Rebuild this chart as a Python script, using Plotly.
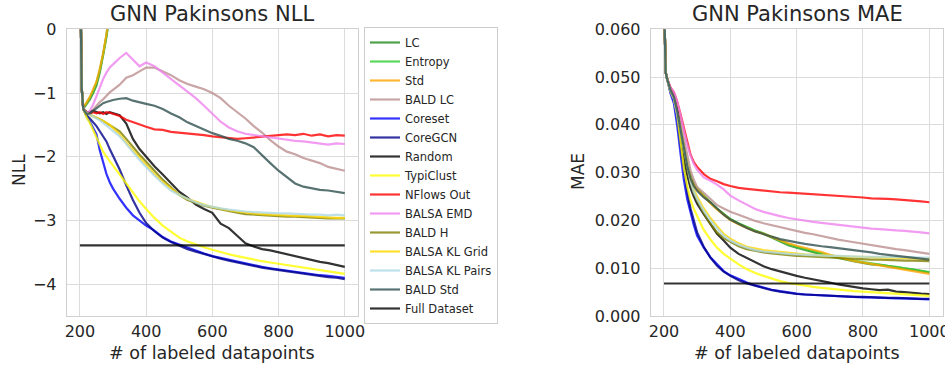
import plotly.graph_objects as go

X = [200, 205, 210, 220, 230, 240, 250, 260, 270, 280, 290, 300, 320, 340, 360, 380, 400,
     425, 450, 475, 500, 525, 550, 575, 600, 625, 650, 675, 700, 725, 750, 775, 800, 825,
     850, 875, 900, 925, 950, 975, 1000]
X_SHORT = [200, 205, 210, 220, 230, 240, 250, 260, 270, 280, 290, 300]
X_FULL = [200, 1000]

# ---------------- NLL ----------------
nll_lc = [1.5, -0.9, -1.25, -1.18, -1.1, -1.0, -0.88, -0.68, -0.42, -0.12, 0.25, 0.6]
nll_entropy = [1.5, -0.9, -1.24, -1.16, -1.07, -0.97, -0.84, -0.64, -0.4, -0.1, 0.28, 0.65]
nll_std = [1.5, -0.9, -1.22, -1.15, -1.06, -0.95, -0.82, -0.62, -0.38, -0.08, 0.3, 0.7]
nll_bald_lc = [1.5, -0.9, -1.25, -1.32, -1.3, -1.26, -1.2, -1.14, -1.1, -1.04, -0.99, -0.95,
               -0.87, -0.76, -0.72, -0.66, -0.6, -0.6, -0.66, -0.72, -0.8, -0.86, -0.9, -0.94,
               -1.0, -1.08, -1.2, -1.3, -1.4, -1.52, -1.62, -1.74, -1.84, -1.92, -1.96, -2.02,
               -2.06, -2.1, -2.16, -2.19, -2.22]
nll_coreset = [1.5, -0.9, -1.25, -1.37, -1.45, -1.56, -1.65, -1.9, -2.1, -2.27, -2.4, -2.5,
               -2.66, -2.8, -2.92, -3.0, -3.08, -3.16, -3.26, -3.33, -3.38, -3.43, -3.48, -3.52,
               -3.56, -3.59, -3.62, -3.65, -3.68, -3.71, -3.73, -3.75, -3.77, -3.79, -3.81,
               -3.83, -3.84, -3.86, -3.87, -3.89, -3.9]
nll_coregcn = [1.5, -0.9, -1.25, -1.35, -1.4, -1.46, -1.52, -1.6, -1.68, -1.76, -1.88, -1.98,
               -2.2, -2.45, -2.68, -2.88, -3.04, -3.17, -3.27, -3.34, -3.4, -3.45, -3.49, -3.53,
               -3.57, -3.6, -3.63, -3.66, -3.69, -3.72, -3.74, -3.76, -3.78, -3.8, -3.82, -3.84,
               -3.86, -3.87, -3.89, -3.9, -3.92]
nll_random = [1.5, -0.9, -1.25, -1.3, -1.3, -1.28, -1.3, -1.32, -1.3, -1.33, -1.3, -1.32,
              -1.35, -1.48, -1.72, -1.88, -2.0, -2.15, -2.28, -2.42, -2.55, -2.64, -2.75, -2.82,
              -2.88, -3.05, -3.12, -3.24, -3.36, -3.41, -3.45, -3.47, -3.5, -3.54, -3.57, -3.59,
              -3.62, -3.65, -3.67, -3.7, -3.73]
nll_typiclust = [1.5, -0.9, -1.25, -1.38, -1.47, -1.58, -1.7, -1.82, -1.92, -2.0, -2.07, -2.14,
                 -2.28, -2.42, -2.57, -2.7, -2.82, -2.96, -3.08, -3.18, -3.27, -3.33, -3.38,
                 -3.42, -3.46, -3.5, -3.53, -3.56, -3.59, -3.62, -3.64, -3.66, -3.68, -3.7,
                 -3.72, -3.74, -3.76, -3.78, -3.8, -3.82, -3.84]
nll_nflows = [1.5, -0.9, -1.25, -1.3, -1.33, -1.3, -1.32, -1.3, -1.33, -1.3, -1.31, -1.33,
              -1.36, -1.42, -1.46, -1.5, -1.53, -1.57, -1.58, -1.61, -1.62, -1.63, -1.65, -1.66,
              -1.68, -1.69, -1.71, -1.72, -1.71, -1.7, -1.69, -1.68, -1.67, -1.65, -1.66, -1.64,
              -1.67, -1.65, -1.68, -1.66, -1.67]
nll_balsa_emd = [1.5, -0.9, -1.25, -1.32, -1.28, -1.18, -1.05, -0.9, -0.78, -0.68, -0.6, -0.55,
                 -0.45, -0.37, -0.47, -0.58, -0.52, -0.58, -0.68, -0.78, -0.88, -0.97, -1.08,
                 -1.2, -1.32, -1.45, -1.54, -1.6, -1.64, -1.66, -1.68, -1.7, -1.71, -1.73,
                 -1.75, -1.76, -1.78, -1.8, -1.81, -1.79, -1.8]
nll_bald_h = [1.5, -0.9, -1.25, -1.32, -1.34, -1.36, -1.38, -1.41, -1.44, -1.47, -1.5, -1.53,
              -1.6, -1.72, -1.85, -1.97, -2.08, -2.22, -2.36, -2.48, -2.6, -2.68, -2.73, -2.77,
              -2.8, -2.83, -2.86, -2.88, -2.9, -2.91, -2.92, -2.93, -2.93, -2.94, -2.94, -2.95,
              -2.96, -2.96, -2.97, -2.97, -2.97]
nll_kl_grid = [1.5, -0.9, -1.25, -1.32, -1.34, -1.36, -1.38, -1.41, -1.44, -1.47, -1.5, -1.55,
               -1.65, -1.78, -1.9, -2.02, -2.13, -2.27, -2.4, -2.5, -2.6, -2.66, -2.71, -2.75,
               -2.79, -2.82, -2.84, -2.86, -2.88, -2.89, -2.9, -2.91, -2.92, -2.92, -2.93,
               -2.93, -2.94, -2.95, -2.95, -2.96, -2.96]
nll_kl_pairs = [1.5, -0.9, -1.25, -1.32, -1.34, -1.37, -1.39, -1.43, -1.47, -1.51, -1.55, -1.59,
                -1.68, -1.8, -1.93, -2.05, -2.16, -2.3, -2.42, -2.53, -2.6, -2.66, -2.72, -2.76,
                -2.79, -2.81, -2.83, -2.85, -2.86, -2.87, -2.88, -2.88, -2.89, -2.89, -2.9,
                -2.9, -2.91, -2.91, -2.92, -2.91, -2.92]
nll_bald_std = [1.5, -0.9, -1.25, -1.33, -1.32, -1.28, -1.24, -1.2, -1.16, -1.14, -1.12, -1.11,
                -1.09, -1.08, -1.12, -1.14, -1.17, -1.2, -1.25, -1.32, -1.38, -1.46, -1.52,
                -1.58, -1.63, -1.67, -1.72, -1.75, -1.79, -1.85, -1.98, -2.1, -2.22, -2.32,
                -2.42, -2.47, -2.5, -2.52, -2.53, -2.55, -2.57]
nll_full = [-3.39, -3.39]

# ---------------- MAE ----------------
mae_lc = [0.068, 0.051, 0.0495, 0.0474, 0.046, 0.043, 0.0392, 0.0352, 0.0318, 0.0292, 0.0276,
          0.0266, 0.0251, 0.0237, 0.0224, 0.0212, 0.0202, 0.0193, 0.0185, 0.0178, 0.0172,
          0.0164, 0.0155, 0.0148, 0.0143, 0.0138, 0.0133, 0.0129, 0.0125, 0.0121, 0.0118,
          0.0114, 0.0111, 0.0108, 0.0107, 0.0104, 0.0102, 0.0099, 0.0097, 0.0094, 0.0091]
mae_entropy = [0.068, 0.051, 0.0495, 0.0474, 0.046, 0.043, 0.0393, 0.0353, 0.0319, 0.0293,
               0.0277, 0.0267, 0.0252, 0.0238, 0.0225, 0.0213, 0.0203, 0.0194, 0.0186, 0.0179,
               0.0173, 0.0165, 0.0157, 0.015, 0.0145, 0.014, 0.0135, 0.0131, 0.0127, 0.0123,
               0.0119, 0.0116, 0.0113, 0.011, 0.0108, 0.0105, 0.0103, 0.01, 0.0098, 0.0095,
               0.0092]
mae_std = [0.068, 0.051, 0.0495, 0.0474, 0.046, 0.043, 0.0392, 0.0352, 0.0317, 0.029, 0.0275,
           0.0265, 0.025, 0.0236, 0.0223, 0.0211, 0.0201, 0.0192, 0.0184, 0.0177, 0.0172,
           0.0165, 0.0158, 0.0152, 0.0147, 0.0143, 0.0139, 0.0134, 0.0128, 0.0123, 0.0119,
           0.0115, 0.0112, 0.0108, 0.0105, 0.0102, 0.0099, 0.0097, 0.0094, 0.0091, 0.0088]
mae_bald_lc = [0.068, 0.051, 0.0495, 0.0475, 0.0462, 0.0438, 0.0405, 0.037, 0.0336, 0.0305,
               0.0285, 0.027, 0.0258, 0.0245, 0.0232, 0.0225, 0.0218, 0.0212, 0.0205, 0.0199,
               0.0194, 0.019, 0.0185, 0.0181, 0.0177, 0.0174, 0.0171, 0.0167, 0.0163, 0.016,
               0.0157, 0.0154, 0.0151, 0.0148, 0.0145, 0.0142, 0.014, 0.0138, 0.0135, 0.0132,
               0.013]
mae_coreset = [0.068, 0.051, 0.0495, 0.0465, 0.0445, 0.0398, 0.034, 0.0285, 0.0245, 0.0215,
               0.019, 0.0168, 0.0143, 0.0123, 0.0108, 0.0094, 0.0085, 0.0077, 0.007, 0.0064,
               0.0059, 0.0055, 0.0052, 0.0049, 0.0047, 0.0045, 0.0044, 0.0043, 0.0042, 0.0041,
               0.004, 0.004, 0.0039, 0.0039, 0.0038, 0.0038, 0.0037, 0.0037, 0.0036, 0.0036,
               0.0035]
mae_coregcn = [0.068, 0.051, 0.0495, 0.0468, 0.046, 0.042, 0.036, 0.0305, 0.026, 0.0225,
               0.0198, 0.0175, 0.0145, 0.0122, 0.0105, 0.0093, 0.0084, 0.0075, 0.0068, 0.0063,
               0.0058, 0.0054, 0.0051, 0.0048, 0.0046, 0.0045, 0.0044, 0.0043, 0.0042, 0.0041,
               0.0041, 0.004, 0.004, 0.0039, 0.0039, 0.0038, 0.0038, 0.0037, 0.0037, 0.0036,
               0.0036]
mae_random = [0.068, 0.051, 0.0495, 0.0475, 0.0462, 0.0432, 0.0385, 0.033, 0.0295, 0.0268,
              0.025, 0.0235, 0.0213, 0.0193, 0.0172, 0.0158, 0.0143, 0.013, 0.0121, 0.0112,
              0.0104, 0.0098, 0.0093, 0.0088, 0.0084, 0.008, 0.0077, 0.0073, 0.007, 0.0066,
              0.0063, 0.006, 0.0058, 0.0056, 0.0054, 0.0055, 0.0051, 0.005, 0.0048, 0.0047,
              0.0046]
mae_typiclust = [0.068, 0.051, 0.0495, 0.047, 0.0455, 0.042, 0.0365, 0.031, 0.0272, 0.0243,
                 0.0224, 0.0208, 0.018, 0.016, 0.0143, 0.013, 0.012, 0.0108, 0.0098, 0.009,
                 0.0084, 0.0078, 0.0073, 0.0069, 0.0066, 0.0063, 0.0061, 0.0059, 0.0057,
                 0.0055, 0.0054, 0.0052, 0.0051, 0.005, 0.0049, 0.0048, 0.0047, 0.0046,
                 0.0045, 0.0044, 0.0042]
mae_nflows = [0.068, 0.051, 0.0495, 0.0478, 0.0468, 0.0448, 0.0422, 0.0392, 0.0362, 0.0338,
              0.0322, 0.0312, 0.0297, 0.0287, 0.0282, 0.0276, 0.0272, 0.0268, 0.0266, 0.0264,
              0.0263, 0.026, 0.0259, 0.0258, 0.0257, 0.0256, 0.0255, 0.0254, 0.0253, 0.0251,
              0.025, 0.0249, 0.0248, 0.0246, 0.0246, 0.0245, 0.0244, 0.0243, 0.0242, 0.024,
              0.0238]
mae_balsa_emd = [0.068, 0.051, 0.0495, 0.0478, 0.0468, 0.0448, 0.042, 0.039, 0.0358, 0.0336,
                 0.0318, 0.0306, 0.029, 0.0283, 0.0275, 0.0265, 0.0252, 0.0242, 0.0233, 0.0224,
                 0.0218, 0.0213, 0.0209, 0.0205, 0.0202, 0.02, 0.0197, 0.0195, 0.0193, 0.0191,
                 0.0189, 0.0186, 0.0184, 0.0183, 0.0182, 0.018, 0.0179, 0.0178, 0.0177, 0.0175,
                 0.0173]
mae_bald_h = [0.068, 0.051, 0.0495, 0.047, 0.0455, 0.0425, 0.0388, 0.0348, 0.031, 0.028,
              0.0258, 0.0242, 0.0215, 0.0193, 0.0175, 0.0163, 0.0155, 0.0146, 0.014, 0.0136,
              0.0133, 0.0131, 0.0129, 0.0127, 0.0126, 0.0125, 0.0124, 0.0123, 0.0122, 0.0121,
              0.012, 0.0119, 0.0119, 0.0118, 0.0118, 0.0117, 0.0117, 0.0116, 0.0116, 0.0116,
              0.0115]
mae_kl_grid = [0.068, 0.051, 0.0495, 0.047, 0.0456, 0.0427, 0.0392, 0.0352, 0.0316, 0.0286,
               0.0265, 0.025, 0.0225, 0.0205, 0.0188, 0.0172, 0.0162, 0.0152, 0.0145, 0.0141,
               0.0138, 0.0136, 0.0134, 0.0132, 0.013, 0.0129, 0.0128, 0.0127, 0.0126, 0.0125,
               0.0125, 0.0124, 0.0124, 0.0123, 0.0123, 0.0122, 0.0122, 0.0121, 0.0121, 0.012,
               0.012]
mae_kl_pairs = [0.068, 0.051, 0.0495, 0.047, 0.0455, 0.0425, 0.039, 0.035, 0.0312, 0.0282,
                0.026, 0.0245, 0.022, 0.02, 0.0183, 0.0168, 0.0158, 0.0149, 0.0143, 0.0138,
                0.0135, 0.0133, 0.0131, 0.013, 0.0129, 0.0128, 0.0127, 0.0127, 0.0126, 0.0126,
                0.0125, 0.0125, 0.0124, 0.0124, 0.0124, 0.0123, 0.0123, 0.0123, 0.0123, 0.0122,
                0.0122]
mae_bald_std = [0.068, 0.051, 0.0495, 0.0472, 0.0458, 0.0428, 0.039, 0.035, 0.0315, 0.0288,
                0.0272, 0.0262, 0.0248, 0.0238, 0.0224, 0.0212, 0.0202, 0.0193, 0.0184, 0.0177,
                0.0171, 0.0166, 0.0161, 0.0157, 0.0154, 0.0151, 0.0148, 0.0146, 0.0144, 0.0142,
                0.014, 0.0138, 0.0136, 0.0133, 0.013, 0.0128, 0.0126, 0.0124, 0.0122, 0.012,
                0.0118]
mae_full = [0.0068, 0.0068]

SERIES = [
    ("LC", "rgba(34,139,34,0.8)", X_SHORT, nll_lc, X, mae_lc),
    ("Entropy", "rgba(50,205,50,0.8)", X_SHORT, nll_entropy, X, mae_entropy),
    ("Std", "rgba(255,165,0,0.8)", X_SHORT, nll_std, X, mae_std),
    ("BALD LC", "rgba(188,143,143,0.8)", X, nll_bald_lc, X, mae_bald_lc),
    ("Coreset", "rgba(0,0,255,0.8)", X, nll_coreset, X, mae_coreset),
    ("CoreGCN", "rgba(0,0,139,0.8)", X, nll_coregcn, X, mae_coregcn),
    ("Random", "rgba(0,0,0,0.8)", X, nll_random, X, mae_random),
    ("TypiClust", "rgba(255,255,0,0.8)", X, nll_typiclust, X, mae_typiclust),
    ("NFlows Out", "rgba(255,0,0,0.8)", X, nll_nflows, X, mae_nflows),
    ("BALSA EMD", "rgba(238,130,238,0.8)", X, nll_balsa_emd, X, mae_balsa_emd),
    ("BALD H", "rgba(128,128,0,0.8)", X, nll_bald_h, X, mae_bald_h),
    ("BALSA KL Grid", "rgba(255,215,0,0.8)", X, nll_kl_grid, X, mae_kl_grid),
    ("BALSA KL Pairs", "rgba(173,216,230,0.8)", X, nll_kl_pairs, X, mae_kl_pairs),
    ("BALD Std", "rgba(47,79,79,0.8)", X, nll_bald_std, X, mae_bald_std),
    ("Full Dataset", "rgba(0,0,0,0.8)", X_FULL, nll_full, X_FULL, mae_full),
]

FONT = "DejaVu Sans"
TXT = "#262626"

fig = go.Figure()
for name, color, xn, yn, xm, ym in SERIES:
    fig.add_trace(go.Scatter(x=xn, y=yn, mode="lines", name=name,
                             line=dict(color=color, width=2.2), xaxis="x", yaxis="y",
                             legendgroup=name, showlegend=True))
    fig.add_trace(go.Scatter(x=xm, y=ym, mode="lines", name=name,
                             line=dict(color=color, width=2.2), xaxis="x2", yaxis="y2",
                             legendgroup=name, showlegend=False))

W, H = 945, 366
ydom = [1 - 316 / H, 1 - 29.3 / H]
axcommon = dict(showgrid=True, gridcolor="#dcdcdc", gridwidth=1, showline=True, mirror=True,
                linecolor="#d0d0d0", linewidth=1, zeroline=False, ticks="", automargin=False,
                tickfont=dict(family=FONT, size=16, color=TXT), ticklabeloverflow="allow")

fig.update_layout(
    width=W, height=H, margin=dict(l=0, r=0, t=0, b=0, autoexpand=False),
    paper_bgcolor="white", plot_bgcolor="white",
    font=dict(family=FONT, color=TXT),
    xaxis=dict(domain=[66.7 / W, 358 / W], range=[160, 1040], tickvals=[200, 400, 600, 800, 1000],
               anchor="y", ticklabelstandoff=1, **axcommon),
    yaxis=dict(domain=ydom, range=[-4.5, 0], tickvals=[0, -1, -2, -3, -4], anchor="x",
               ticklabelstandoff=6, **axcommon),
    xaxis2=dict(domain=[650.7 / W, 942.6 / W], range=[160, 1040],
                tickvals=[200, 400, 600, 800, 1000], anchor="y2", ticklabelstandoff=1, **axcommon),
    yaxis2=dict(domain=ydom, range=[0, 0.06], tickvals=[0, 0.01, 0.02, 0.03, 0.04, 0.05, 0.06],
                tickformat=".3f", anchor="x2", ticklabelstandoff=6, **axcommon),
    legend=dict(x=364 / W, y=1 - 27 / H, xanchor="left", yanchor="top",
                bgcolor="white", bordercolor="#cccccc", borderwidth=1,
                font=dict(family=FONT, size=11.5, color=TXT), itemwidth=30,
                tracegroupgap=0),
    showlegend=True,
)

ann = [
    dict(text="GNN Pakinsons NLL", x=212 / W, y=1 - 14 / H, size=21),
    dict(text="GNN Pakinsons MAE", x=797 / W, y=1 - 14 / H, size=21),
    dict(text="# of labeled datapoints", x=212 / W, y=1 - 353 / H, size=17.5),
    dict(text="# of labeled datapoints", x=797 / W, y=1 - 353 / H, size=17.5),
]
for a in ann:
    fig.add_annotation(text=a["text"], x=a["x"], y=a["y"], xref="paper", yref="paper",
                       showarrow=False, xanchor="center", yanchor="middle",
                       font=dict(family=FONT, size=a["size"], color=TXT))
fig.add_annotation(text="NLL", x=19 / W, y=1 - 170 / H, xref="paper", yref="paper",
                   showarrow=False, textangle=-90, xanchor="center", yanchor="middle",
                   font=dict(family=FONT, size=17, color=TXT))
fig.add_annotation(text="MAE", x=578 / W, y=1 - 172 / H, xref="paper", yref="paper",
                   showarrow=False, textangle=-90, xanchor="center", yanchor="middle",
                   font=dict(family=FONT, size=17, color=TXT))

fig.write_html("out.html")
